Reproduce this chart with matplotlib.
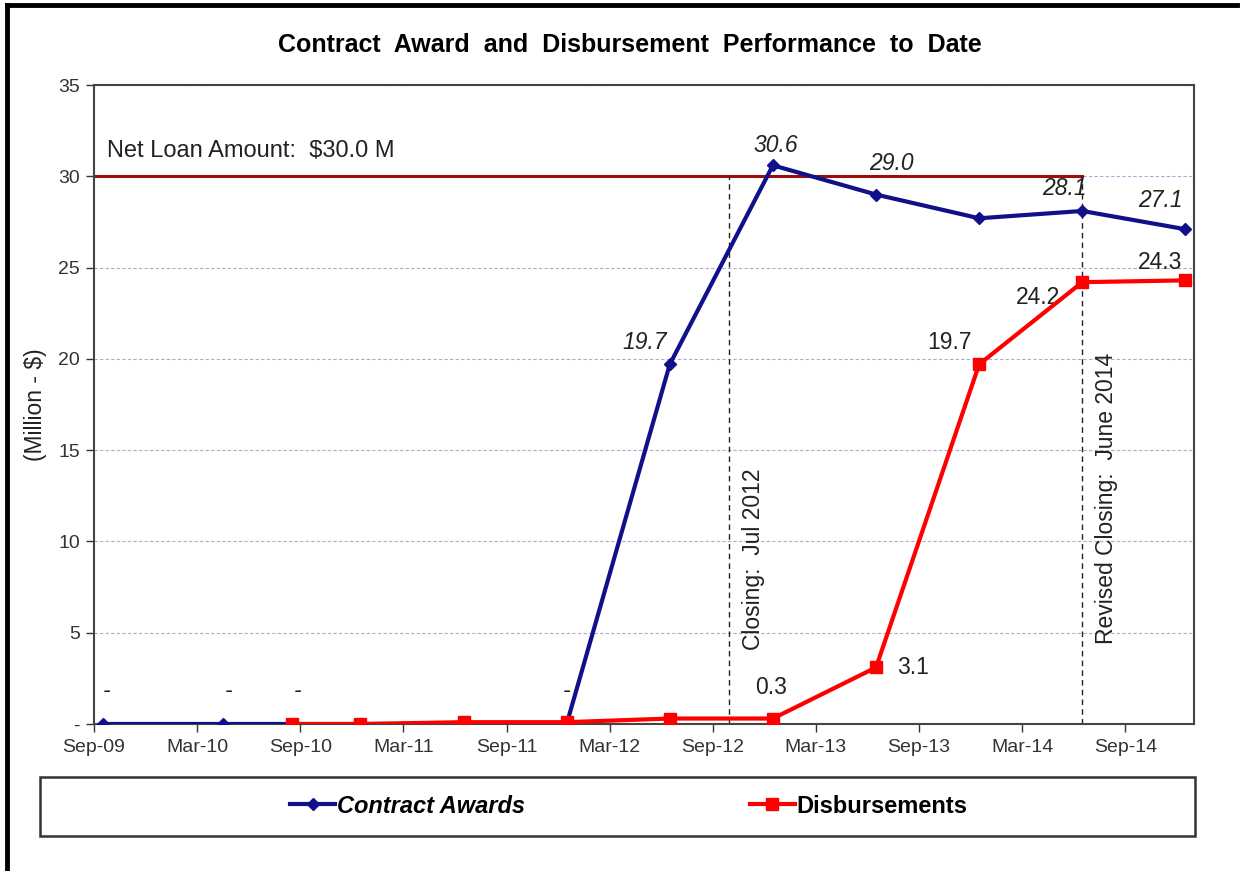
import matplotlib
matplotlib.use('Agg')
import matplotlib.pyplot as plt
from matplotlib.patches import Rectangle
from matplotlib.lines import Line2D
import pandas as pd

plt.rcParams['font.family'] = ['Liberation Sans', 'DejaVu Sans']

# data (million $), by month
start = pd.Period('2009-09', freq='M')
tick_labels = ['Sep-09', 'Mar-10', 'Sep-10', 'Mar-11', 'Sep-11', 'Mar-12',
               'Sep-12', 'Mar-13', 'Sep-13', 'Mar-14', 'Sep-14']

award_months = ['2009-09', '2010-04', '2010-08', '2011-12', '2012-06',
                '2012-12', '2013-06', '2013-12', '2014-06', '2014-12']
award_values = [0.0, 0.0, 0.0, 0.0, 19.7, 30.6, 29.0, 27.7, 28.1, 27.1]

disb_months = ['2010-08', '2010-12', '2011-06', '2011-12', '2012-06',
               '2012-12', '2013-06', '2013-12', '2014-06', '2014-12']
disb_values = [0.0, 0.0, 0.1, 0.1, 0.3, 0.3, 3.1, 19.7, 24.2, 24.3]

net_loan = 30.0
closing_month = 36.92      # months after Sep-09
revised_closing = '2014-06'

# label offsets in points (None = no label)
award_offsets = [(3, 24), (4, 24), (4, 24), (0, 24), (-18, 16), (2, 14),
                 (11, 22), None, (-13, 16), (-18, 21)]
disb_offsets = [None, None, None, None, None, (-1, 22), (27, 0),
                (-21, 16), (-32, -11), (-18, 13)]


def month_pos(m):
    # centre of the month slot on the date axis
    return (pd.Period(m, freq='M') - start).n + 0.5


def fmt(v):
    return '-' if v == 0 else f'{v:.1f}'


ax_x = [month_pos(m) for m in award_months]
dx = [month_pos(m) for m in disb_months]

fig = plt.figure(figsize=(12.42, 8.71), dpi=100)
ax = fig.add_axes([94 / 1242, 1 - 724 / 871, 1100 / 1242, 639 / 871])

blue = '#10108a'
red = '#ff0000'
txt = '#222222'

ax.plot(ax_x, award_values, color=blue, lw=3, marker='D', ms=6,
        zorder=3)
ax.plot(dx, disb_values, color=red, lw=3, marker='s', ms=8.5, zorder=4)

for x, v, off in zip(ax_x, award_values, award_offsets):
    if off is None:
        continue
    ax.annotate(fmt(v), (x, v), xytext=off, textcoords='offset points',
                ha='center', va='center', fontsize=16.5, style='italic',
                color=txt)
for x, v, off in zip(dx, disb_values, disb_offsets):
    if off is None:
        continue
    ax.annotate(fmt(v), (x, v), xytext=off, textcoords='offset points',
                ha='center', va='center', fontsize=16.5, color=txt)

# net loan line and closing markers
rc = month_pos(revised_closing)
ax.plot([0, rc], [net_loan, net_loan], color='#9b0e0e', lw=2.2, zorder=2)
ax.text(0.75, 31.4, f'Net Loan Amount:  ${net_loan:.1f} M', fontsize=17,
        va='center', ha='left', color=txt)
ax.vlines([closing_month, rc], 0, net_loan, colors=txt,
          linestyles=(0, (4, 3)), lw=1, zorder=2)
ax.text(closing_month + 1.45, 4.05, 'Closing:  Jul 2012', rotation=90,
        ha='center', va='bottom', fontsize=16.5, color=txt)
ax.text(rc + 1.4, 4.4, 'Revised Closing:  June 2014', rotation=90,
        ha='center', va='bottom', fontsize=16.5, color=txt)

ax.set_xlim(0, 64)
ax.set_ylim(0, 35)
ax.set_xticks(range(0, 61, 6))
ax.set_xticklabels(tick_labels)
ax.set_yticks(range(0, 36, 5))
ax.set_yticklabels(['-'] + [str(v) for v in range(5, 36, 5)])
ax.tick_params(direction='out', length=6, width=1, labelsize=14,
               colors='#333333', pad=4)
ax.tick_params(axis='x', pad=5)
ax.yaxis.grid(True, linestyle=(0, (3, 2)), color='#b0a8d4', lw=0.8)
ax.set_axisbelow(True)
for s in ax.spines.values():
    s.set_color('#444444')
    s.set_linewidth(1.5)
ax.set_ylabel('(Million - $)', fontsize=16.5, color=txt, labelpad=8)

fig.text(630 / 1242, 1 - 45 / 871,
         'Contract  Award  and  Disbursement  Performance  to  Date',
         ha='center', va='center', fontsize=18, fontweight='bold')

# legend box
fig.patches.append(Rectangle((40 / 1242, 1 - 836 / 871), 1155 / 1242,
                             59 / 871, transform=fig.transFigure,
                             fill=False, ec='#333333', lw=1.8))
handles = [Line2D([], [], color=blue, lw=3, marker='D', ms=6),
           Line2D([], [], color=red, lw=3, marker='s', ms=8.5)]
leg = fig.legend(handles, ['Contract Awards', 'Disbursements'], ncol=2,
                 loc='center', bbox_to_anchor=(629 / 1242, 1 - 806 / 871),
                 frameon=False, handlelength=1.9, handletextpad=0.1,
                 columnspacing=9.5, prop={'size': 17, 'weight': 'bold'})
leg.get_texts()[0].set_style('italic')

# outer frame edges
fig.add_artist(Line2D([7 / 1242, 7 / 1242], [0, 1 - 5 / 871],
                      transform=fig.transFigure, color='black', lw=3.5))
fig.add_artist(Line2D([7 / 1242, 1237 / 1242], [1 - 5 / 871, 1 - 5 / 871],
                      transform=fig.transFigure, color='black', lw=3.5))

fig.savefig('out.png', dpi=100)
